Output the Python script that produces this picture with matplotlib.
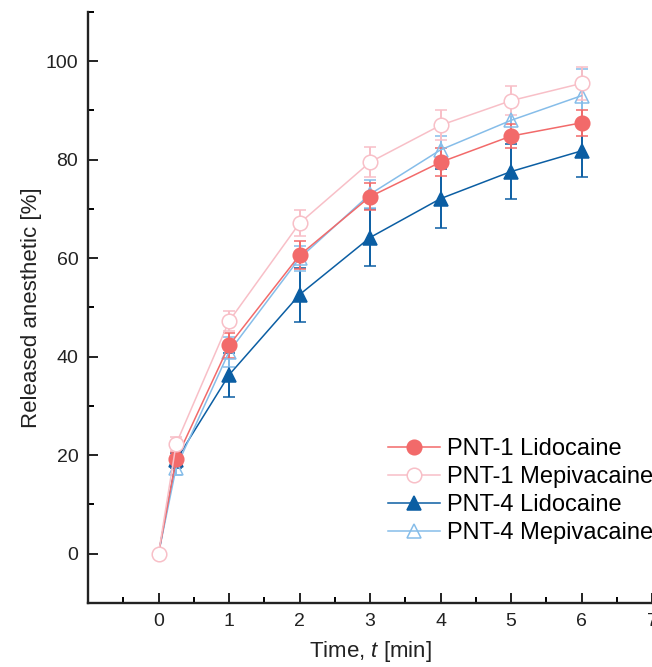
import numpy as np
import matplotlib
matplotlib.use("Agg")
import matplotlib.pyplot as plt
from matplotlib.ticker import MultipleLocator

plt.rcParams["font.family"] = ["Liberation Sans", "DejaVu Sans"]
plt.rcParams["mathtext.fontset"] = "custom"
plt.rcParams["mathtext.it"] = "Liberation Sans:italic"
plt.rcParams["mathtext.rm"] = "Liberation Sans"

# Data
time = [0, 0.25, 1, 2, 3, 4, 5, 6]

pnt1_lido = [0, 19.2, 42.3, 60.6, 72.5, 79.5, 84.8, 87.5]
pnt1_lido_err = [0, 1.5, 2.5, 2.8, 2.8, 2.8, 2.5, 2.7]

pnt1_mepi = [0, 22.3, 47.2, 67.1, 79.5, 87.0, 92.0, 95.5]
pnt1_mepi_err = [0, 1.5, 2.0, 2.6, 3.0, 3.0, 3.0, 3.3]

pnt4_lido = [0, 19.0, 36.3, 52.6, 64.2, 72.1, 77.6, 81.8]
pnt4_lido_err = [0, 1.5, 4.4, 5.5, 5.8, 6.0, 5.5, 5.3]

pnt4_mepi = [0, 17.5, 41.0, 60.0, 73.0, 82.0, 88.0, 93.0]
pnt4_mepi_err = [0, 1.5, 3.0, 2.5, 2.8, 2.8, 3.2, 5.5]

labels = ["PNT-1 Lidocaine", "PNT-1 Mepivacaine", "PNT-4 Lidocaine", "PNT-4 Mepivacaine"]

# Create figure and axes
fig = plt.figure(figsize=(6.52, 6.67), dpi=100)
ax = fig.add_axes([0.135, 0.096, 0.865, 0.886])

# (values, errors, colour, marker, face, label, draw marker at t=0)
series = [
    (pnt4_lido, pnt4_lido_err, "#0b5ea3", "^", "#0b5ea3", labels[2], False),
    (pnt4_mepi, pnt4_mepi_err, "#86bde9", "^", "none", labels[3], False),
    (pnt1_lido, pnt1_lido_err, "#f26a6a", "o", "#f26a6a", labels[0], False),
    (pnt1_mepi, pnt1_mepi_err, "#f8bfc7", "o", "white", labels[1], True),
]

handles = {}
for y, err, color, mk, mfc, lab, first in series:
    h = ax.errorbar(
        time, y, yerr=err,
        color=color, marker=mk, markersize=10.5, markerfacecolor=mfc,
        markeredgecolor=color, markeredgewidth=1.1, linewidth=1.1,
        elinewidth=1.4, capsize=4.5, capthick=1.4, label=lab,
        markevery=slice(0 if first else 1, None),
    )
    handles[lab] = h.lines[0]

# Axis limits and ticks
ax.set_xlim(-1, 7)
ax.set_ylim(-10, 110)
ax.set_xticks([0, 1, 2, 3, 4, 5, 6, 7])
ax.set_yticks([0, 20, 40, 60, 80, 100])
ax.xaxis.set_minor_locator(MultipleLocator(0.5))
ax.yaxis.set_minor_locator(MultipleLocator(10))
ax.tick_params(which="major", direction="in", length=7, width=1.4,
               labelsize=14, colors="#222222", pad=7)
ax.tick_params(which="minor", direction="in", length=4, width=1.4)

for side in ["top", "right"]:
    ax.spines[side].set_visible(False)
for side in ["left", "bottom"]:
    ax.spines[side].set_linewidth(1.7)
    ax.spines[side].set_color("#222222")

ax.set_xlabel("Time, $t$ [min]", fontsize=16, color="#222222", labelpad=7)
ax.set_ylabel("Released anesthetic [%]", fontsize=16, color="#222222", labelpad=3)

ax.legend(
    [handles[l] for l in labels], labels,
    loc="upper left", bbox_to_anchor=(0.595, 0.343),
    bbox_transform=fig.transFigure,
    frameon=False, fontsize=17, handlelength=2.2, handletextpad=0.3,
    labelspacing=0.25, borderpad=0, borderaxespad=0,
)

fig.savefig("out.png", dpi=100)
